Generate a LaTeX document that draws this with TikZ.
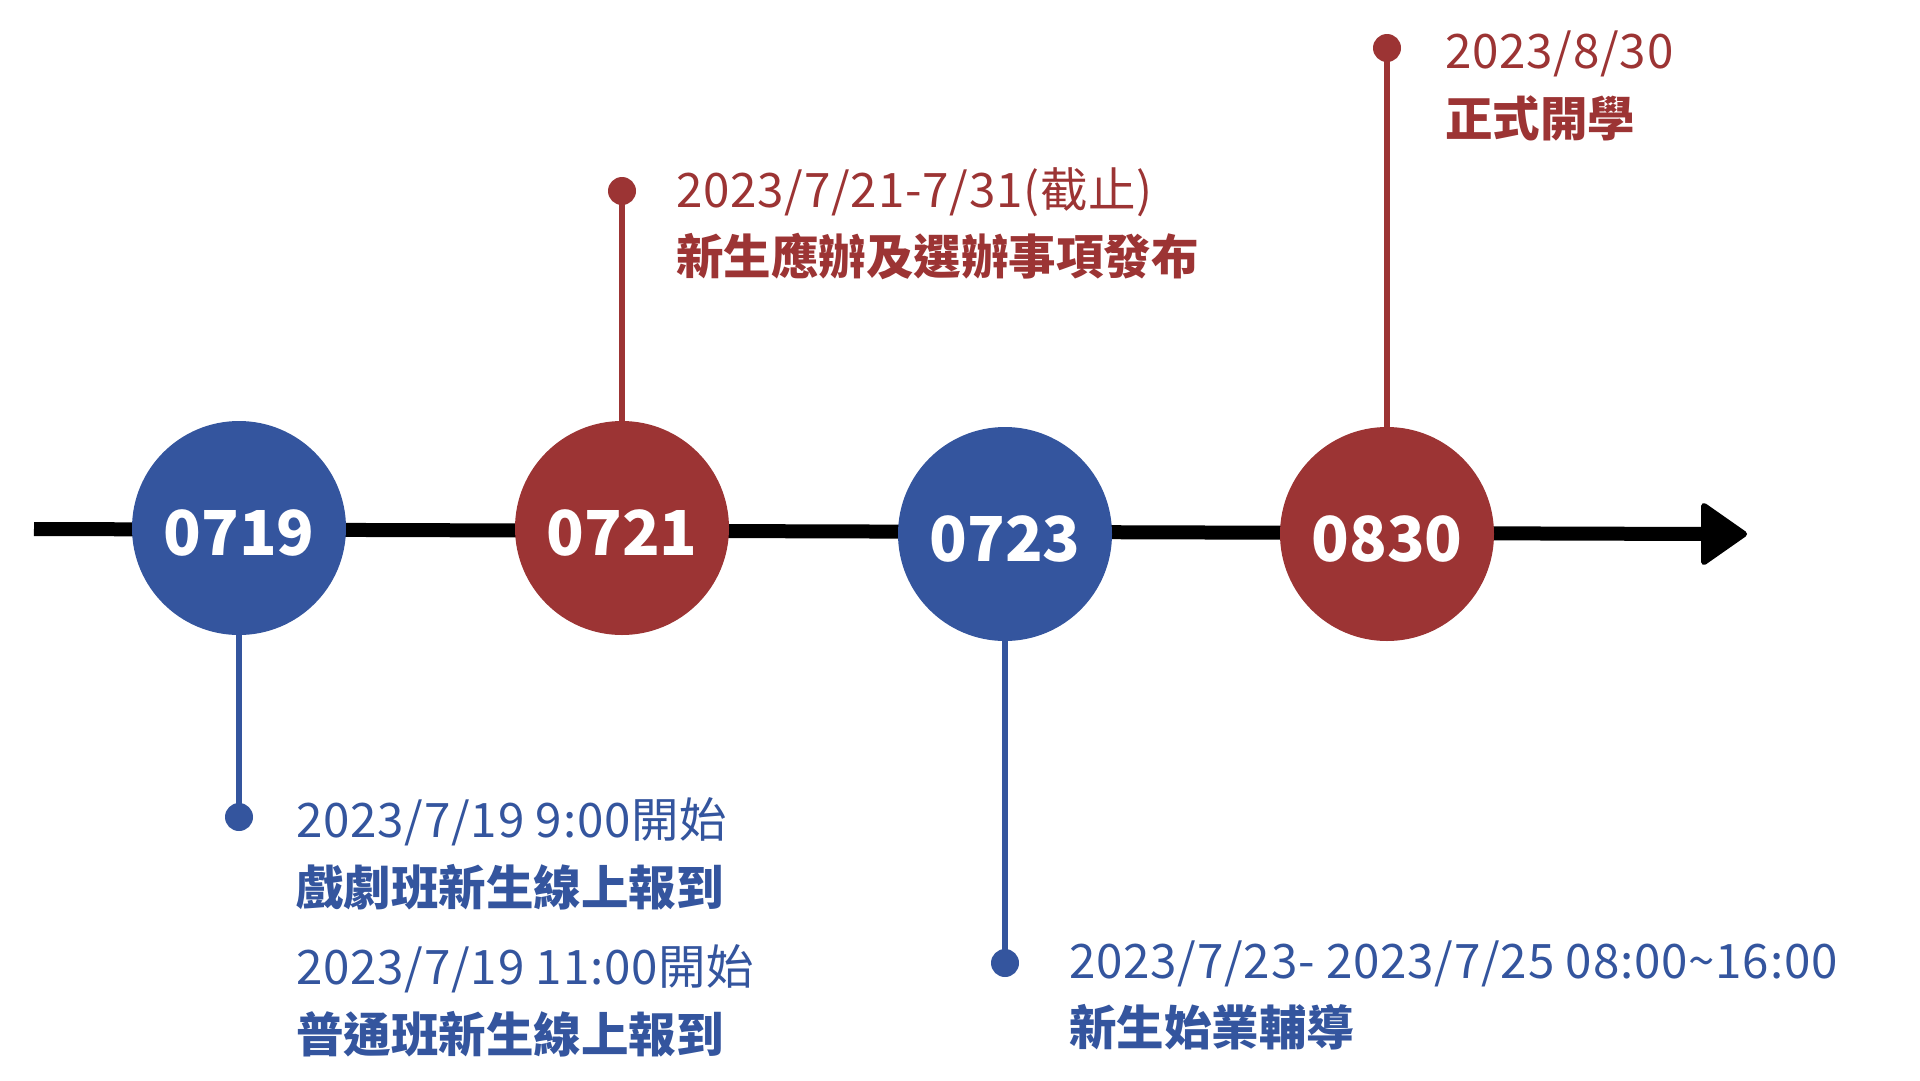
\documentclass[tikz,border=0pt]{standalone}
\usepackage{fontspec}
\setmainfont{Noto Sans CJK TC}
\definecolor{tlblue}{RGB}{52,85,158}
\definecolor{tlred}{RGB}{156,52,52}
\begin{document}
\begin{tikzpicture}[x=1pt,y=-1pt,
  bubble/.style={circle,fill=#1,minimum size=214pt,inner sep=0pt},
  num/.style={text=white,font=\fontsize{62}{62}\selectfont\bfseries,inner sep=0pt},
  dot/.style={circle,fill=#1,minimum size=28pt,inner sep=0pt},
  stalk/.style={draw=#1,line width=6pt},
  info/.style={text=#1,font=\fontsize{47.5}{66}\selectfont\addfontfeature{LetterSpace=1.7},anchor=base west,inner sep=0pt},
  infob/.style={text=#1,font=\fontsize{47.5}{66}\selectfont\bfseries,anchor=base west,inner sep=0pt}]
\useasboundingbox[fill=white] (0,0) rectangle (1920,1080);
% timeline
\coordinate (ts) at (34,529);
\coordinate (te) at (1712,534);
\draw[line width=14pt] (ts) -- (te);
\draw[line width=6pt,line join=round,fill=black] (1704,506) -- (1744,534) -- (1704,562) -- cycle;
% circles
\node[bubble=tlblue] (c1) at (239,528) {};
\node[bubble=tlred]  (c2) at (622,528) {};
\node[bubble=tlblue] (c3) at (1005,534) {};
\node[bubble=tlred]  (c4) at (1387,534) {};
\node[num] (n1) at ([yshift=-5pt]c1.center) {0719};
\node[num] (n2) at ([yshift=-5pt]c2.center) {0721};
\node[num] (n3) at ([yshift=-5pt]c3.center) {0723};
\node[num] (n4) at ([yshift=-5pt]c4.center) {0830};
% dots
\node[dot=tlblue] (d1) at (239,817) {};
\node[dot=tlred]  (d2) at (622,191) {};
\node[dot=tlblue] (d3) at (1005,963) {};
\node[dot=tlred]  (d4) at (1387,48) {};
\draw[stalk=tlblue] (c1.south) -- (d1.center);
\draw[stalk=tlred]  (c2.north) -- (d2.center);
\draw[stalk=tlblue] (c3.south) -- (d3.center);
\draw[stalk=tlred]  (c4.north) -- (d4.center);
% texts
\node[info=tlred]  (t4a) at (1445,68) {2023/8/30};
\node[infob=tlred] (t4b) at (1445,136) {正式開學};
\node[info=tlred]  (t2a) at (676,207) {2023/7/21-7/31(截止)};
\node[infob=tlred] (t2b) at (676,274) {新生應辦及選辦事項發布};
\node[info=tlblue]  (t1a) at (296,837) {2023/7/19 9:00開始};
\node[infob=tlblue] (t1b) at (296,905) {戲劇班新生線上報到};
\node[info=tlblue]  (t1c) at (296,984) {2023/7/19 11:00開始};
\node[infob=tlblue] (t1d) at (296,1052) {普通班新生線上報到};
\node[info=tlblue]  (t3a) at (1069,978) {2023/7/23- 2023/7/25 08:00\textasciitilde 16:00};
\node[infob=tlblue] (t3b) at (1069,1045) {新生始業輔導};
\end{tikzpicture}
\end{document}
